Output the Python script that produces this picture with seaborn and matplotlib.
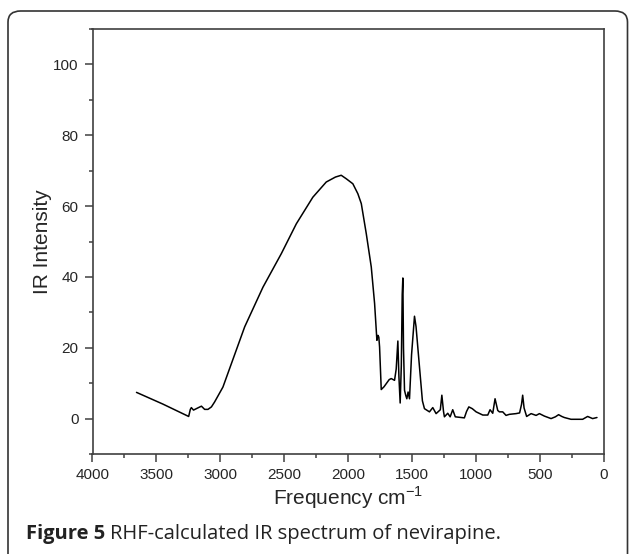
import numpy as np
import pandas as pd
import matplotlib.pyplot as plt
import seaborn as sns
from matplotlib.patches import FancyBboxPatch
from matplotlib.ticker import MultipleLocator

freq = [3656, 3450, 3248, 3235, 3227, 3210, 3188, 3160, 3148, 3123, 3097, 3070,
        3045, 2980, 2933, 2810, 2667, 2523, 2406, 2277, 2172, 2100, 2055, 2015,
        1964, 1925, 1898, 1859, 1820, 1794, 1776, 1768, 1761, 1755, 1742, 1720,
        1700, 1680, 1664, 1638, 1625, 1612, 1604, 1594, 1585, 1578, 1573, 1568,
        1560, 1550, 1542, 1532, 1521, 1505, 1482, 1470, 1443, 1420, 1404, 1365,
        1339, 1313, 1280, 1268, 1255, 1248, 1222, 1203, 1183, 1163, 1092, 1075,
        1057, 1030, 1000, 948, 909, 891, 870, 852, 831, 818, 792, 766, 740, 688,
        660, 645, 636, 625, 605, 570, 531, 505, 466, 414, 380, 355, 330, 310,
        258, 167, 128, 89, 55]
intensity = [7.4, 4.1, 0.6, 2.6, 3.1, 2.4, 2.8, 3.3, 3.5, 2.6, 2.6, 3.3,
             4.7, 8.9, 13.6, 25.9, 37.1, 46.6, 55.0, 62.5, 66.8, 68.2, 68.7, 67.7,
             66.3, 63.5, 60.7, 52.2, 42.8, 32.5, 22.1, 23.5, 23.0, 20.2, 8.2, 9.0,
             10.0, 11.0, 11.3, 10.8, 14.0, 21.9, 12.0, 4.4, 15.0, 35.0, 39.7, 20.0,
             8.0, 6.5, 5.6, 7.5, 5.6, 18.0, 28.9, 26.0, 14.6, 5.0, 2.8, 1.9,
             3.1, 1.4, 2.5, 6.6, 2.0, 0.5, 1.5, 0.5, 2.5, 0.5, 0.2, 2.0,
             3.3, 2.8, 1.9, 1.0, 1.0, 2.5, 1.5, 5.6, 2.3, 1.9, 1.9, 0.9, 1.2, 1.4,
             1.6, 4.0, 6.6, 3.0, 0.6, 1.4, 0.9, 1.4, 0.7, 0.0, 0.5, 1.1, 0.6, 0.3,
             -0.2, -0.2, 0.6, 0.0, 0.3]

x_ticks = [4000, 3500, 3000, 2500, 2000, 1500, 1000, 500, 0]
y_ticks = [0, 20, 40, 60, 80, 100]

df = pd.DataFrame({'freq': freq, 'intensity': intensity})

sns.set_style('ticks')
plt.rcParams['font.family'] = ['Liberation Sans', 'DejaVu Sans']

W, H = 629, 554
fig = plt.figure(figsize=(W / 100, H / 100), dpi=100)
fig.patch.set_facecolor('white')

# rounded frame around the whole figure (bottom runs off the image)
frame = FancyBboxPatch((8 / W, -40 / H), 619.5 / W, (543 + 40) / H,
                       boxstyle='round,pad=0,rounding_size=0.02',
                       transform=fig.transFigure, fill=False,
                       edgecolor='#333333', linewidth=1.2, clip_on=False)
fig.patches.append(frame)

ax = fig.add_axes([92.5 / W, 1 - 454 / H, (604 - 92.5) / W, (454 - 29) / H])
sns.lineplot(data=df, x='freq', y='intensity', sort=False, estimator=None,
             color='black', linewidth=1.1, ax=ax)

ax.set_xlim(4000, 0)
ax.set_ylim(-10, 110)
ax.set_xticks(x_ticks)
ax.set_yticks(y_ticks)
ax.xaxis.set_minor_locator(MultipleLocator(250))
ax.yaxis.set_minor_locator(MultipleLocator(10))
ax.tick_params(which='major', length=6, width=1.1, color='#404040',
               labelsize=11, direction='out', pad=4)
ax.tick_params(which='minor', length=3, width=1.1, color='#404040', direction='out')
for sp in ax.spines.values():
    sp.set_visible(True)
    sp.set_color('#404040')
    sp.set_linewidth(1.2)

ax.set_xlabel(r'Frequency cm$^{\mathregular{-1}}$', fontsize=15, labelpad=2)
ax.set_ylabel('IR Intensity', fontsize=15, labelpad=1)

# caption: bold "Figure 5" followed by regular text
renderer = fig.canvas.get_renderer()
cap_y = 1 - 539 / H
t1 = fig.text(26 / W, cap_y, 'Figure 5', fontsize=14.5, fontweight='bold',
              family=['Open Sans', 'DejaVu Sans'], color='#222222', va='baseline')
bb = t1.get_window_extent(renderer)
fig.text((bb.x1 + 5) / W, cap_y, 'RHF-calculated IR spectrum of nevirapine.',
         fontsize=14.5, family=['Open Sans', 'DejaVu Sans'], color='#222222',
         va='baseline')

fig.savefig('out.png', dpi=100, facecolor='white')
